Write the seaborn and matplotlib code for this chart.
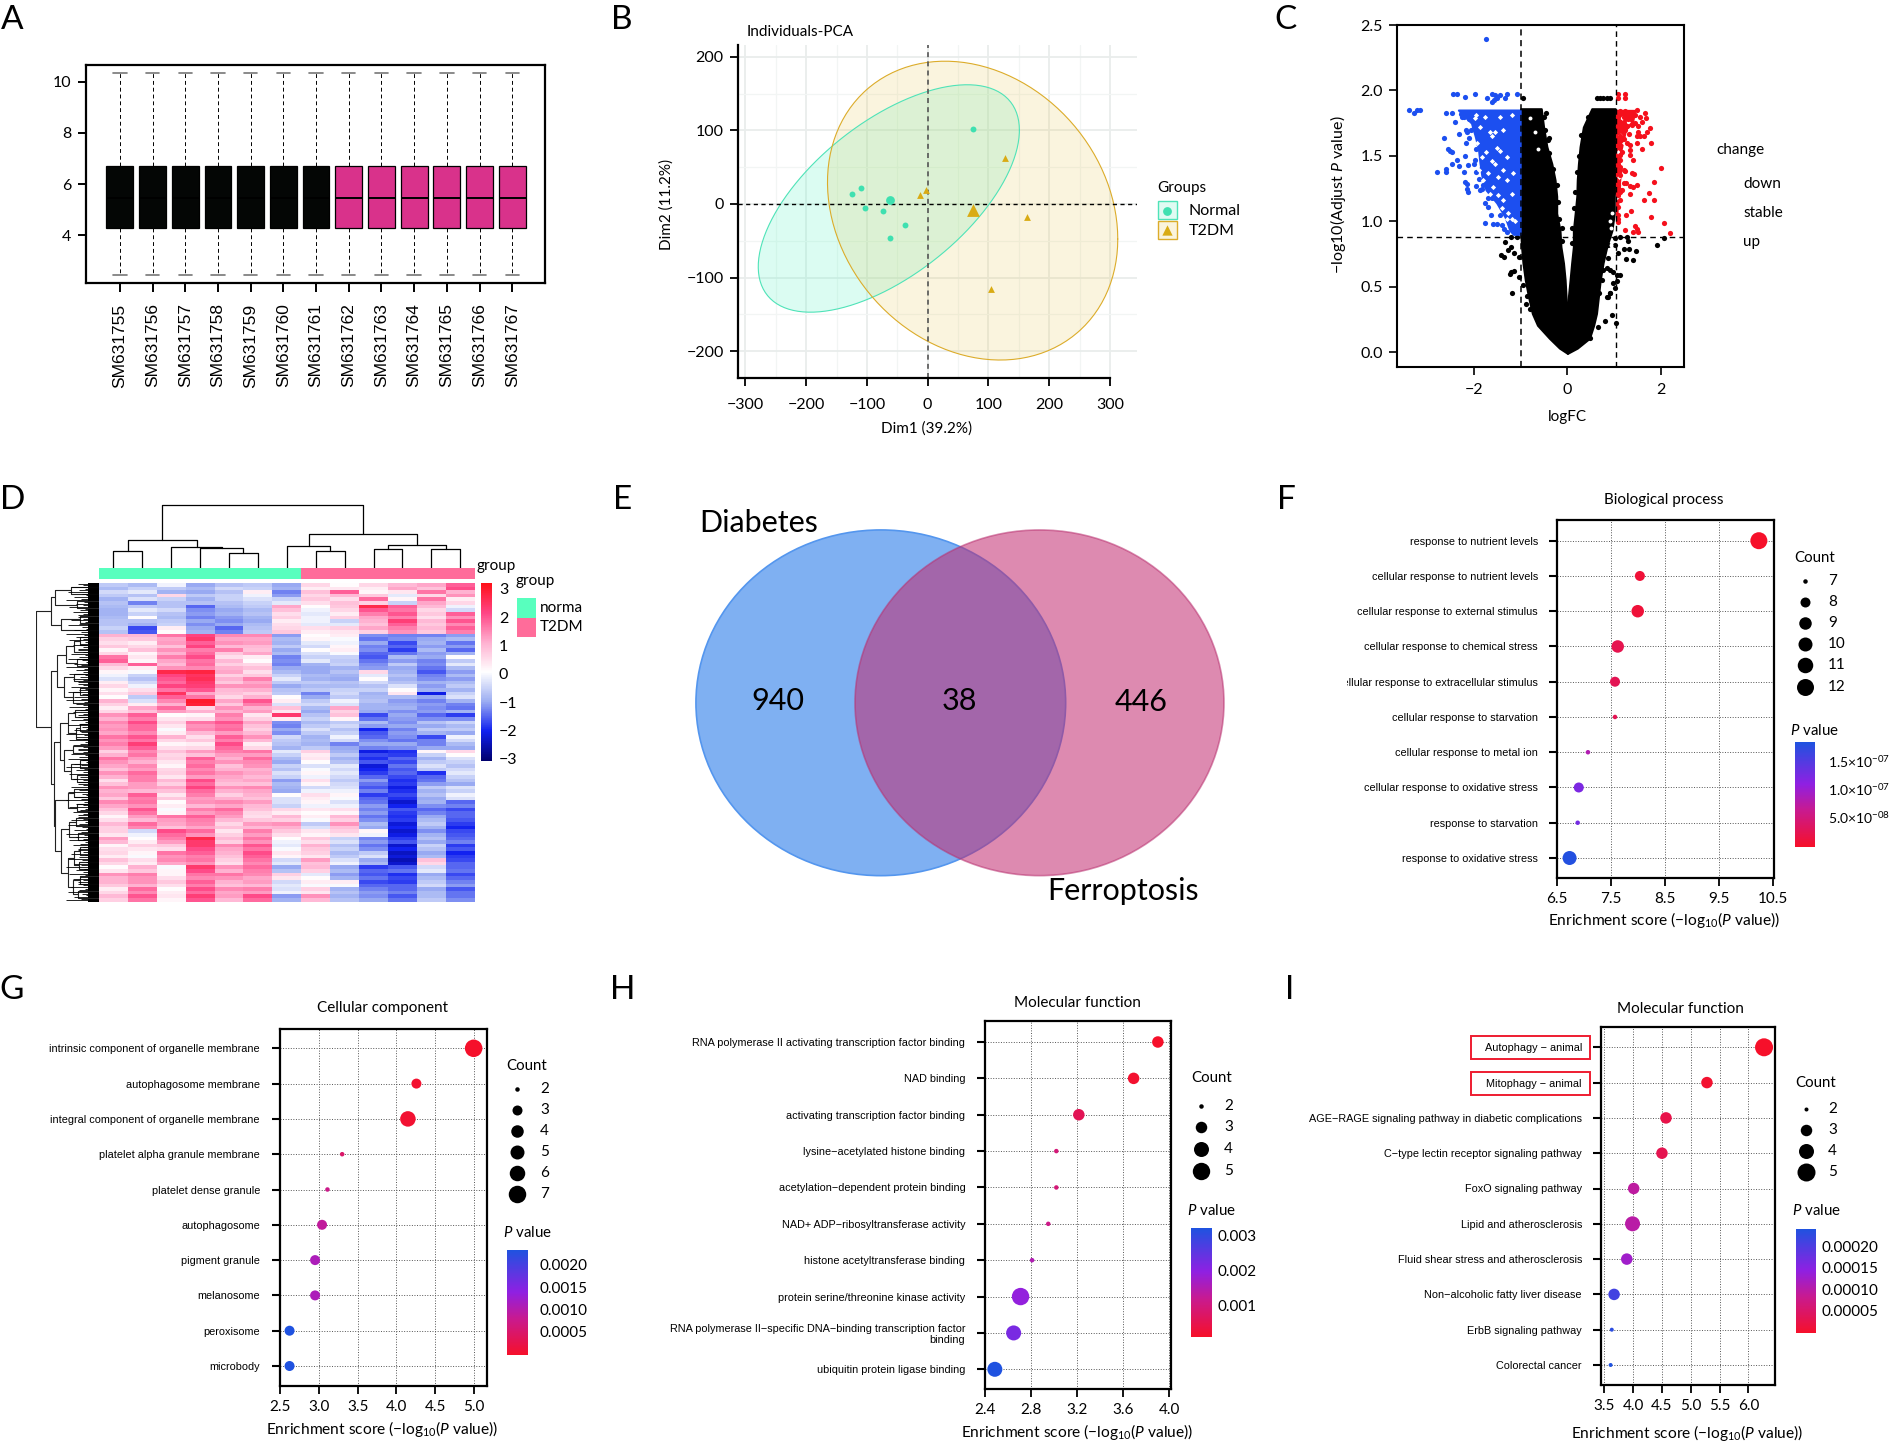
#!/usr/bin/env python3
# Nine-panel figure: boxplot, PCA, volcano, heatmap, venn and four enrichment dot plots
import numpy as np
import pandas as pd
import matplotlib
matplotlib.use("Agg")
import matplotlib.pyplot as plt
import seaborn as sns
from matplotlib.colors import LinearSegmentedColormap, ListedColormap, Normalize
from matplotlib.cm import ScalarMappable
from matplotlib.patches import Rectangle, Ellipse
from matplotlib.transforms import Bbox

W, H = 1890, 1444

# ---- A: boxes
samples = ["SM6317%d" % i for i in range(55, 68)]
sample_group = ["normal"] * 7 + ["t2dm"] * 6
box_stats = [2.45, 4.3, 5.45, 6.7, 10.33]

# ---- B: PCA
normal_x = [74, -110, -125, -103, -74, -38, -62]
normal_y = [102, 22, 14, -5, -10, -29, -46]
t2dm_x = [127, -3, -12, 164, 105]
t2dm_y = [62, 19, 12, -18, -115]
centroid_x = [-62, 74]
centroid_y = [6, -8]

# ---- C: volcano
blue_x = [-3.38, -3.27, -3.22, -3.16, -2.60, -2.46, -2.395, -2.63, -2.31, -2.17, -2.15, -2.095, -2.17, -2.545, -2.51,
          -2.47, -2.19, -2.35, -2.46, -2.31, -2.22, -2.13, -1.995, -2.60, -2.60, -2.78, -2.19, -2.14, -2.15, -2.12,
          -1.95, -1.87, -2.44, -2.365, -2.19, -1.975, -1.71, -1.62, -1.55, -1.51, -1.44, -1.62, -1.30, -1.33, -1.08,
          -1.56, -1.73, -1.755, -1.60, -1.51, -1.64, -1.755, -1.69, -2.25, -2.05, -1.92, -1.85, -1.80, -1.62,
          -2.0, -2.1, -1.95, -1.98, -1.95, -1.9, -1.82, -1.7, -1.45, -1.4, -1.35, -1.3, -2.28, -2.2]
blue_y = [1.85, 1.83, 1.85, 1.85, 1.83, 1.83, 1.755, 1.64, 1.665, 1.70, 1.685, 1.64, 1.595, 1.55, 1.535,
          1.53, 1.495, 1.47, 1.44, 1.42, 1.38, 1.43, 1.44, 1.40, 1.38, 1.38, 1.30, 1.285, 1.25, 1.22,
          1.27, 1.235, 1.97, 1.97, 1.95, 1.97, 1.94, 1.97, 1.965, 1.94, 1.965, 1.915, 1.97, 1.94, 1.97,
          1.925, 2.39, 0.99, 0.98, 0.98, 1.05, 1.14, 1.11, 1.80, 1.70, 1.60, 1.40, 1.28, 1.18,
          1.72, 1.78, 1.55, 1.47, 1.38, 1.32, 1.25, 1.18, 1.05, 0.97, 0.94, 0.92, 1.82, 1.80]
blue_body_y = [0.90, 0.93, 1.03, 1.14, 1.24, 1.35, 1.45, 1.55, 1.65, 1.75, 1.85]
blue_body_left = [-1.155, -1.23, -1.33, -1.51, -1.74, -1.83, -1.87, -1.90, -1.97, -2.05, -2.33]
blue_gap_x = [-1.95, -1.97, -1.65, -1.55, -1.76, -1.44, -1.19, -1.87, -1.62, -1.37, -1.94, -1.73, -1.44, -1.51, -1.83,
              -1.62, -1.55, -1.30, -1.90, -1.69, -1.48, -1.37, -1.80, -1.58, -1.30, -1.155, -1.65, -1.48, -1.37, -1.19,
              -1.62, -1.51, -1.40, -1.26, -1.30, -1.19, -1.12, -1.44]
blue_gap_y = [1.81, 1.79, 1.68, 1.68, 1.80, 1.80, 1.81, 1.72, 1.65, 1.70, 1.60, 1.53, 1.54, 1.56, 1.49,
              1.46, 1.44, 1.49, 1.39, 1.37, 1.34, 1.39, 1.315, 1.265, 1.315, 1.37, 1.21, 1.20, 1.16, 1.21,
              1.14, 1.07, 1.10, 1.06, 1.02, 1.02, 1.0, 1.01]

black_y = [-0.01, 0.03, 0.105, 0.205, 0.295, 0.42, 0.55, 0.68, 0.805, 0.93, 1.06, 1.19, 1.315, 1.44, 1.57, 1.72, 1.86]
black_left_out = [0, -0.17, -0.385, -0.64, -0.75, -0.83, -0.90, -0.95, -0.98, -1.0, -1.0, -1.0, -1.0, -1.0, -1.0, -1.0, -1.0]
black_left_in = [0, 0, 0, 0, 0, -0.03, -0.05, -0.085, -0.14, -0.16, -0.23, -0.23, -0.265, -0.335, -0.44, -0.51, -0.56]
black_right_in = [0, 0, 0, 0, 0, 0.02, 0.056, 0.09, 0.127, 0.127, 0.165, 0.20, 0.21, 0.235, 0.27, 0.34, 0.52]
black_right_out = [0, 0.21, 0.47, 0.56, 0.62, 0.66, 0.70, 0.76, 0.84, 0.95, 1.0, 1.0, 1.02, 1.02, 1.02, 1.02, 1.02]
black_pts_x = [0.625, 0.70, 0.77, 0.84, 0.91, -0.457, 1.91, 2.07, 1.28, 1.30, 1.12, 1.02, 0.875, 1.02, 1.20, 1.32, 1.47,
               1.09, 1.25, 1.39, 0.875, 0.77, 0.84, 0.91, 0.98, 1.05, 0.73, 1.05, 0.98, 1.02, 0.91, 0.68, 0.84,
               -0.94, -1.42, -1.36, -1.26, -1.20, -1.14, -1.33, -1.2, -1.07, -1.03, -1.2, -1.14, -1.23, -1.03, -1.18,
               -0.94, -0.86, -0.885, -0.80, -0.64, -0.575, 0.66, 0.80, 0.96, 1.03, 0.49, 0.86, 0.90, 1.12, -0.47, -0.40,
               -0.50, -0.42, -0.40, -0.30, -0.22, -0.20, -0.19, -0.12, -0.12, 0.44, 0.30, 0.24, 0.20, 0.17, 0.15, 0.10, 0.10]
black_pts_y = [1.94, 1.94, 1.94, 1.94, 1.94, 1.83, 0.82, 0.87, 0.88, 0.85, 0.88, 0.87, 0.82, 0.82, 0.79, 0.79, 0.77,
               0.755, 0.71, 0.70, 0.72, 0.63, 0.64, 0.63, 0.61, 0.59, 0.55, 0.54, 0.525, 0.49, 0.45, 0.45, 0.42,
               1.94, 0.74, 0.73, 0.78, 0.80, 0.76, 0.84, 0.88, 0.88, 0.73, 0.61, 0.62, 0.60, 0.575, 0.45,
               0.51, 0.43, 0.37, 0.33, 0.28, 0.24, 0.19, 0.24, 0.28, 0.22, 0.105, 0.42, 0.45, 0.59, 1.70, 1.64,
               1.80, 1.62, 1.52, 1.40, 1.28, 1.15, 1.02, 0.95, 0.85, 1.80, 1.66, 1.50, 1.38, 1.22, 1.10, 0.95, 0.83]
black_gap_x = [-0.80, -0.70, 0.90, 0.95, 0.92, 0.88, -0.62, 0.93]
black_gap_y = [1.79, 1.68, 1.00, 1.06, 0.82, 0.76, 1.55, 0.95]

red_body_y = [1.0, 1.1, 1.22, 1.3, 1.40, 1.5, 1.62, 1.70, 1.76, 1.85]
red_body_right = [1.06, 1.07, 1.12, 1.12, 1.15, 1.12, 1.20, 1.25, 1.40, 1.445]
red_gap_x = [1.16, 1.30, 1.12, 1.20, 1.09, 1.14, 1.10, 1.08]
red_gap_y = [1.79, 1.76, 1.66, 1.60, 1.53, 1.44, 1.34, 1.18]
red_x = [1.07, 1.07, 1.22, 1.22, 1.12, 1.23, 1.34, 1.495, 1.665, 1.445, 1.55, 1.68, 1.09, 1.20, 1.30, 1.59, 1.445,
         1.765, 1.71, 1.12, 1.20, 1.28, 1.37, 1.515, 1.07, 1.16, 1.23, 1.09, 1.32, 1.515, 1.55, 1.12, 1.20, 1.09,
         1.48, 1.645, 1.48, 1.34, 1.28, 1.79, 1.59, 1.12, 1.16, 1.34, 1.34, 1.12, 1.41, 1.12, 1.09, 1.12, 1.20,
         1.07, 1.99, 1.22, 1.37, 1.43, 1.12, 1.07, 1.09, 1.12, 1.20, 1.25, 1.34, 1.41, 1.48, 1.85, 1.12, 1.34, 1.16,
         1.75, 1.07, 1.12, 1.645, 1.85, 1.07, 1.35, 1.25, 1.09, 1.09, 1.07, 1.79, 2.07, 2.19, 1.23, 1.445, 1.40, 1.48, 1.515]
red_y = [1.97, 1.94, 1.97, 1.94, 1.84, 1.84, 1.825, 1.85, 1.83, 1.81, 1.80, 1.79, 1.80, 1.795, 1.78, 1.76, 1.75,
         1.71, 1.685, 1.76, 1.75, 1.725, 1.735, 1.725, 1.725, 1.71, 1.70, 1.685, 1.67, 1.68, 1.65, 1.65, 1.625, 1.62,
         1.65, 1.65, 1.595, 1.58, 1.595, 1.595, 1.55, 1.57, 1.53, 1.545, 1.505, 1.505, 1.47, 1.47, 1.44, 1.415, 1.39,
         1.405, 1.41, 1.385, 1.37, 1.36, 1.355, 1.275, 1.25, 1.24, 1.29, 1.29, 1.27, 1.265, 1.28, 1.30, 1.225, 1.21, 1.235,
         1.215, 1.2, 1.16, 1.16, 1.16, 1.11, 1.08, 1.05, 1.05, 1.02, 0.995, 1.03, 0.99, 0.91, 0.93, 0.96, 0.92, 0.94, 0.92]

# ---- D: heatmap rows (bands read top to bottom)
heat_top = [
    [-.6, -.8, -.1, -1, -.7, -.6, -1, .6, .1, .6, 1, 1.2, 1.9],
    [-.8, -.5, -.6, -.8, -.4, -.5, -.9, .3, .4, .3, 1.2, .9, 2.1],
    [-.4, -.2, -.9, -1.0, -.7, .3, -1.3, .9, 1.9, .2, .4, 1.7, 1.1],
    [-.6, -.7, .6, -.6, -.5, -.1, -1.1, .6, 1.0, .8, -.2, .6, 1.4],
    [-.9, -.3, -.5, -.9, -.5, -.3, -.5, .8, .5, 1.8, .2, 1.7, .3],
    [-.7, -1.3, -.7, -.7, -.7, -.5, -.2, .5, .9, .7, -.5, 1.2, .6],
    [-.8, -.6, -.7, -1.5, -.8, -.6, 1.2, .1, .8, 2.7, 1.9, 1.0, -.1],
    [-.9, -.2, -.4, -1.2, -1.0, -.8, .9, -.1, .6, 2.0, 1.7, .6, -.4],
    [-.9, -.5, -.7, -1.1, -.9, -.7, .5, -.2, .3, 1.6, 2.0, .8, 1.9],
    [-.8, .1, -.8, -1.3, -1.1, -.9, .7, -.1, .7, 1.2, 1.6, .5, 1.4],
    [-.7, -.7, -.6, -1.0, -1.2, -1.0, .3, -.1, -.5, 1.1, 2.3, 1.0, 2.0],
    [-.7, -.9, -.5, -1.2, -1.0, -.8, .5, -.2, -.2, .9, 1.9, .8, 1.5],
    [-.5, -1.7, .3, -1.0, -1.5, -.7, .6, .5, .7, 1.2, 1.6, 1.0, 1.9],
    [-.7, -1.6, .1, -.9, -1.3, -.6, .8, .3, .4, .7, 1.4, .8, 1.6],
]
heat_upper = [
    [1.1, 1.0, 1.7, 2.2, 1.5, 1.5, -1.1, .1, .3, -1.2, -1.3, -1.3, -1.1],
    [.7, .8, 1.2, 2.4, 1.2, 1.2, -.8, .2, .0, -1.4, -1.2, -1.0, -.8],
    [.5, .3, 1.3, 1.9, 1.4, 1.3, -.9, -.2, -.1, -1.0, -1.7, -.9, -1.4],
    [.8, .6, .9, 2.2, 1.0, 1.0, -.6, -.4, .2, -1.3, -1.5, -1.1, -1.1],
    [.2, .9, 1.4, 1.6, 1.6, .9, -1.0, .1, .3, -1.2, -1.8, -.8, -1.5],
    [.6, .2, 1.1, 1.8, .8, 1.2, -.8, -.3, .0, -1.5, -1.4, -1.1, -.9],
    [1.7, .4, 1.6, 2.1, .5, .3, -1.3, -.5, -.5, -1.6, -.8, -1.0, .1],
    [1.9, .2, 1.2, 1.7, 1.0, .1, -1.2, -.2, -.6, -1.4, -1.1, -1.3, -.6],
    [1.0, 1.9, 1.0, 1.8, .7, .6, -1.3, -.9, -.5, -1.2, -.6, -1.2, -.2],
    [.6, .3, 1.4, 1.5, 1.1, .9, -1.0, -1.0, -.9, -1.1, -1.0, -1.4, -.8],
    [.2, .0, 2.7, 2.8, 1.2, .5, -.8, -1.0, -.7, .6, -.9, -1.6, -1.1],
    [-.1, -.5, 2.2, 2.5, .7, .8, -.5, -.8, -.9, -.2, -.7, -1.3, -.8],
    [-.3, -.7, 2.0, 2.6, 1.1, 1.6, -.2, -.9, -1.0, .1, -.9, -1.2, -1.1],
    [.3, -.4, 1.8, 2.4, .8, 1.2, -.6, -.6, -.7, -.4, -.7, -.9, -.8],
    [.6, -.1, 2.2, 2.3, 1.4, 1.4, -1.0, -.8, -.8, -.7, -.3, -1.1, -.6],
    [.2, .5, 1.7, 2.0, 1.0, 1.1, -.7, -.6, -.5, -.5, .1, -.9, -.9],
    [.5, .8, 2.5, 1.2, .9, .7, -.6, -1.3, -.4, -.9, .4, -2.1, -.5],
    [.1, -.6, 1.9, 1.7, .6, 1.1, .1, -1.0, -.6, -.8, -.8, -1.0, -.3],
    [1.1, -.3, 1.5, 3.0, 1.2, 2.0, .3, -.6, -.1, -.7, -1.1, -1.3, -.9],
    [.7, .3, 1.1, 2.9, .8, 1.6, -.3, -.4, -.3, -.9, -1.0, -1.1, -1.3],
]
heat_middle = [
    [.3, 1.2, 1.8, .6, 1.4, 1.1, .9, -.8, 1.2, -.9, -.9, -1.2, -1.4],
    [.6, .9, 1.3, 1.1, 1.1, 1.3, .4, -1.0, .7, -1.0, -1.2, -1.1, -.9],
    [1.4, 1.9, .1, .2, 1.6, .4, 2.4, -.7, .9, -1.7, -1.0, -1.5, -1.8],
    [1.1, 1.6, .4, .5, 1.4, .7, .3, -.5, .2, -1.4, -1.1, -1.2, -1.2],
    [1.5, 2.1, .7, 1.7, 2.0, 1.2, -1.2, -.8, -.6, -.8, -1.2, -.7, -.5],
    [1.3, 1.8, .4, 1.4, 1.7, .9, -1.3, -.6, -.4, -1.1, -1.0, -1.0, -.8],
    [1.4, 1.8, .0, 1.5, 1.8, .7, -1.0, -.3, -.7, -2.0, -1.3, -.6, -.6],
    [1.2, 1.5, .3, 1.0, 1.3, 1.0, -1.2, -.6, -.5, -1.6, -1.1, -.9, -1.0],
    [1.7, 2.0, 1.1, .5, 1.9, 1.4, -.4, -.9, -.1, -1.5, -1.2, -1.7, -.1],
    [1.4, 1.7, .6, .8, 1.6, 1.0, -.6, -.8, -.4, -1.2, -1.4, -1.3, -.4],
    [1.6, 2.3, .2, .3, 2.1, .3, -.7, -.9, -1.3, -1.0, -1.0, -1.3, -.8],
    [1.3, 1.9, .5, .6, 1.8, .6, -.9, -.6, -1.0, -1.3, -1.2, -1.0, -1.0],
    [.7, 1.5, .9, 1.3, 1.6, 1.7, -.2, .7, -.9, -2.1, -1.9, .2, .6],
    [1.1, 1.7, .6, .9, 1.3, 1.3, -.5, .3, -.6, -1.7, -1.8, -.5, .1],
    [1.7, 1.3, .7, 1.9, 1.1, 1.8, -.8, .4, -.9, -1.9, -1.5, -.9, -.3],
    [1.4, 1.1, .4, 1.6, 1.4, 1.5, -1.0, .1, -.7, -1.6, -1.7, -.6, -.5],
    [1.2, 1.5, .2, 1.8, .9, 1.4, -.5, -.3, -.2, -2.2, -1.4, -.3, -.7],
    [.9, 1.3, .6, 1.5, 1.1, 1.1, -.7, .0, -.4, -2.0, -1.6, -.6, -.4],
    [1.4, 1.8, .7, 1.7, 1.4, 1.2, -.3, .2, -.2, -1.8, -1.5, -1.9, -.2],
    [1.1, 1.6, .4, 1.3, 1.2, 1.0, -.5, -.1, -.4, -1.5, -1.7, -1.5, -.5],
    [.5, 1.6, 1.0, 2.1, 1.1, 1.2, -1.1, .5, -.6, -1.1, -1.9, -1.4, -.7],
    [.9, 1.3, .7, 1.8, .9, .9, -.8, .2, -.4, -1.4, -1.8, -1.1, -1.0],
    [1.4, 1.3, 1.2, 2.2, 1.4, 1.5, -.9, -.4, -.3, -1.6, -2.1, -.6, -.3],
    [1.1, 1.0, .9, 1.8, 1.1, 1.2, -1.0, -.1, -.1, -1.3, -1.9, -.9, -.5],
    [1.2, 1.9, .4, 1.6, .7, 1.1, .1, .5, .2, -1.8, -1.7, -.7, -.1],
    [.8, 1.6, .8, 1.3, 1.1, .9, -.3, .3, .0, -1.5, -1.9, -1.0, -.3],
    [1.5, 1.7, .1, 1.4, 1.5, 1.3, -.3, .2, -.3, -1.4, -2.3, -.9, -1.5],
    [1.2, 1.4, .3, 1.0, 1.2, 1.0, -.5, -.1, -.1, -1.1, -2.0, -1.2, -1.3],
    [.9, 2.0, .0, 1.6, 1.8, .9, .6, .4, .5, -1.3, -1.6, -1.5, -1.7],
    [.6, 1.7, .2, 1.3, 1.5, .6, .3, .1, .2, -1.1, -1.8, -1.3, -1.5],
]
heat_lower = [
    [.2, 1.3, 1.7, 1.9, 1.3, .5, 1.0, .3, 1.0, -1.4, -1.9, -1.0, -1.5],
    [.5, 1.0, 1.3, 1.6, 1.0, .8, .7, .0, .7, -1.2, -1.8, -.8, -1.6],
    [1.0, 1.8, 1.2, 1.5, .6, 1.3, 1.4, -.6, 1.4, -.8, -2.2, -.6, -1.8],
    [.7, 1.5, .9, 1.2, .9, 1.0, 1.1, -.3, .9, -1.0, -2.0, -.9, -2.0],
    [.7, -.4, 2.1, 1.8, .4, 1.6, .8, .4, .7, .2, -2.3, -1.2, -1.7],
    [.4, -.1, 1.8, 1.4, .7, 1.3, .5, .2, .4, -.1, -2.1, -.9, -1.6],
    [1.3, .1, 1.6, 2.7, 1.0, 1.7, .1, .8, -.5, -1.3, -1.8, -.7, -1.5],
    [1.0, .3, 1.3, 2.4, .7, 1.4, -.1, .5, -.3, -1.1, -1.6, -1.0, -1.3],
    [.2, .7, .8, 2.4, 1.5, 2.0, -.2, 1.1, -.7, -1.4, -2.3, -.5, -1.8],
    [.5, .4, .5, 2.1, 1.2, 1.7, .0, .8, -.5, -1.2, -2.0, -.7, -1.6],
    [.6, .2, 1.7, 1.9, 1.1, 2.1, .4, .7, -.8, -.6, -2.4, -1.0, -2.0],
    [.3, .0, 1.4, 1.6, .9, 1.9, .2, .4, -.6, -.3, -2.2, -.8, -1.8],
    [.9, .5, 1.5, 1.7, .7, 1.7, -.4, 1.3, -.3, -1.0, -2.5, .9, -1.7],
    [.6, .3, 1.2, 1.4, .5, 1.5, -.2, .9, -.1, -.8, -2.3, .6, -1.5],
    [.1, 1.1, .0, 2.4, 1.4, 1.8, -1.0, 1.0, -1.0, -1.8, -1.6, -.4, -1.5],
    [.4, .8, .2, 2.1, 1.1, 1.6, -.7, .7, -.8, -1.5, -1.4, -.2, -1.4],
    [1.4, 1.6, .2, 1.7, 1.7, 1.5, .7, -.2, -1.1, -1.6, -1.9, -1.0, -1.7],
    [1.1, 1.4, .5, 1.5, 1.4, 1.2, .4, .1, -.9, -1.4, -1.7, -.8, -1.5],
    [1.1, 1.4, .8, 1.9, 1.1, 1.3, -.4, .3, .3, -1.7, -1.8, -.6, -1.3],
    [.8, 1.1, .5, 1.6, .9, 1.0, -.2, .0, .0, -1.5, -1.5, -.4, -1.1],
    [.3, 1.8, .1, 2.1, 1.5, 1.6, -.3, .7, -.9, -1.3, -1.5, -1.0, -1.6],
    [.6, 1.5, .3, 1.8, 1.2, 1.3, -.1, .4, -.7, -1.1, -1.3, -.8, -1.4],
    [1.0, 2.0, .4, 2.3, 1.3, 2.1, -1.1, 1.4, -.9, -1.2, -1.6, -.8, -1.4],
    [.7, 1.7, .2, 2.0, 1.0, 1.8, -.9, 1.0, -.7, -1.0, -1.4, -.6, -1.2],
]
heat_group = [0] * 7 + [1] * 6
# column tree: (child, child, height); ids above 12 are earlier merges
col_merges = [(0, 1, .27), (4, 5, .24), (3, 14, .316), (2, 15, .33), (13, 16, .44), (7, 8, .27), (6, 18, .347),
              (9, 10, .29), (11, 12, .305), (20, 21, .363), (19, 22, .54), (17, 23, 1.0)]
# row tree, nested (depth, upper, lower); leaves are slots 0-43 along the heatmap height
row_tree = (1.0,
            (.76, (.70, (.45, 0, 1), (.35, 2, 3)), (.6, (.3, 4, 5), 6)),
            (.76,
             (.66, (.52, (.4, (.3, 7, 8), 9), (.35, 10, 11)), (.55, (.4, 12, 13), (.42, (.3, 14, 15), 16))),
             (.72,
              (.62, (.5, (.38, 17, 18), (.36, (.3, 19, 20), 21)), (.55, (.42, 22, 23), (.45, (.3, 24, 25), (.35, 26, 27)))),
              (.70, (.5, (.4, 28, 29), (.35, 30, 31)),
               (.6, (.48, (.36, 32, 33), (.34, 34, 35)), (.5, (.4, (.3, 36, 37), (.32, 38, 39)), (.42, (.3, 40, 41), (.33, 42, 43))))))))
leaf_jag = [.34, .25, .44, .22, .31, .50, .27, .20, .39, .29, .52, .24, .36, .26, .47, .22, .30, .42, .25, .33]

# ---- F-I: enrichment tables
bp_terms = ["response to nutrient levels", "cellular response to nutrient levels", "cellular response to external stimulus",
            "cellular response to chemical stress", "cellular response to extracellular stimulus",
            "cellular response to starvation", "cellular response to metal ion", "cellular response to oxidative stress",
            "response to starvation", "response to oxidative stress"]
bp_score = [10.24, 8.04, 8.0, 7.63, 7.58, 7.58, 7.08, 6.91, 6.89, 6.74]
bp_count = [12, 8, 9, 9, 8, 7, 7, 8, 7, 10]

cc_terms = ["intrinsic component of organelle membrane", "autophagosome membrane", "integral component of organelle membrane",
            "platelet alpha granule membrane", "platelet dense granule", "autophagosome", "pigment granule", "melanosome",
            "peroxisome", "microbody"]
cc_score = [5.0, 4.26, 4.15, 3.3, 3.11, 3.04, 2.95, 2.95, 2.62, 2.62]
cc_count = [7, 3, 6, 2, 2, 3, 3, 3, 3, 3]

mf_terms = ["RNA polymerase II activating transcription factor binding", "NAD binding", "activating transcription factor binding",
            "lysine\u2212acetylated histone binding", "acetylation\u2212dependent protein binding",
            "NAD+ ADP\u2212ribosyltransferase activity", "histone acetyltransferase binding",
            "protein serine/threonine kinase activity",
            "RNA polymerase II\u2212specific DNA\u2212binding transcription factor\nbinding", "ubiquitin protein ligase binding"]
mf_score = [3.90, 3.69, 3.215, 3.02, 3.02, 2.95, 2.81, 2.71, 2.65, 2.487]
mf_count = [3, 3, 3, 2, 2, 2, 2, 5, 4, 4]

kegg_terms = ["Autophagy \u2212 animal", "Mitophagy \u2212 animal", "AGE\u2212RAGE signaling pathway in diabetic complications",
              "C\u2212type lectin receptor signaling pathway", "FoxO signaling pathway", "Lipid and atherosclerosis",
              "Fluid shear stress and atherosclerosis", "Non\u2212alcoholic fatty liver disease", "ErbB signaling pathway",
              "Colorectal cancer"]
kegg_score = [6.27, 5.28, 4.57, 4.50, 4.01, 3.99, 3.89, 3.67, 3.63, 3.61]
kegg_count = [5, 3, 3, 3, 3, 4, 3, 3, 2, 2]

sns.set_theme(style="ticks")
plt.rcParams["font.family"] = ["Lato", "DejaVu Sans"]
plt.rcParams["mathtext.fontset"] = "custom"
plt.rcParams["mathtext.rm"] = "Lato"
plt.rcParams["mathtext.it"] = "Lato:italic"
plt.rcParams["mathtext.bf"] = "Lato:bold"
for key in ["axes.edgecolor", "xtick.color", "ytick.color", "text.color", "axes.labelcolor"]:
    plt.rcParams[key] = "black"

fig = plt.figure(figsize=(W / 100, H / 100), dpi=100)


def px_axes(left, top, right, bottom):
    return fig.add_axes([left / W, 1 - bottom / H, (right - left) / W, (bottom - top) / H])


# transparent top layer in figure pixels for titles, legends and panel letters
over = fig.add_axes([0, 0, 1, 1], zorder=20)
over.set_xlim(0, W)
over.set_ylim(H, 0)
over.axis("off")


def put(x, y, s, size=11, ha="left", **kw):
    over.text(x, y, s, fontsize=size, ha=ha, va="center", **kw)


for letter, lx, ly in [("A", 12, 20), ("B", 622, 20), ("C", 1285, 20), ("D", 13, 500), ("E", 623, 500),
                       ("F", 1286, 500), ("G", 12, 990), ("H", 623, 990), ("I", 1290, 990)]:
    put(lx, ly, letter, size=24, ha="center")

# ---------- A
ax = px_axes(86.5, 65, 545, 283.3)
box_df = pd.DataFrame({
    "sample": np.repeat(samples, len(box_stats)),
    "group": np.repeat(sample_group, len(box_stats)),
    "expr": box_stats * len(samples),
})
sns.boxplot(data=box_df, x="sample", y="expr", hue="group", dodge=False, width=0.82, whis=(0, 100), legend=False,
            palette={"normal": "#040605", "t2dm": "#d9328b"}, saturation=1, linecolor="black", linewidth=0.9,
            whiskerprops={"linestyle": (0, (4, 3)), "linewidth": 0.7}, capprops={"color": "#777777", "linewidth": 1.2},
            medianprops={"color": "black", "linewidth": 1.4}, ax=ax)
ax.set_xlim(-1.02, 13.0)
ax.set_ylim(2.125, 10.65)
ax.set_yticks([4, 6, 8, 10])
ax.set_xlabel("")
ax.set_ylabel("")
ax.tick_params(axis="y", labelsize=11.5, length=6, width=1.4, pad=5)
ax.tick_params(axis="x", labelsize=12.5, length=6.5, width=1.4, pad=8, rotation=90)
for lab in ax.get_xticklabels():
    lab.set_fontfamily("Liberation Sans")
for sp in ax.spines.values():
    sp.set_linewidth(1.6)
    sp.set_visible(True)

# ---------- B
ax = px_axes(737.6, 45, 1136.6, 377.7)
ax.set_xlim(-313, 344)
ax.set_ylim(-236, 216)
ax.set_xticks(np.arange(-300, 301, 100))
ax.set_yticks(np.arange(-200, 201, 100))
ax.set_xticks(np.arange(-250, 300, 100), minor=True)
ax.set_yticks(np.arange(-150, 200, 100), minor=True)
ax.grid(True, which="major", color="#e9edec", lw=1.3)
ax.grid(True, which="minor", color="#f2f5f4", lw=0.9)
ax.set_axisbelow(True)
theta = np.linspace(0, 2 * np.pi, 240)
for cx, cy, rx, ry, shift, face, edge, a in [(-64, 7.5, 215, 154.5, 0.927, "#5ff5c4", "#4fe3b8", 0.22),
                                             (74, -9, 239, 203, 1.762, "#e6c040", "#dcac2a", 0.17)]:
    ex = cx + rx * np.cos(theta)
    ey = cy + ry * np.cos(theta - shift)
    ax.fill(ex, ey, facecolor=face, alpha=a, edgecolor="none", zorder=1.5)
    ax.plot(ex, ey, color=edge, lw=0.8, zorder=1.6)
sns.scatterplot(x=normal_x, y=normal_y, color="#3fe0b0", s=18, marker="o", linewidth=0, ax=ax, zorder=3)
sns.scatterplot(x=t2dm_x, y=t2dm_y, color="#d9ab14", s=24, marker="^", linewidth=0, ax=ax, zorder=3)
sns.scatterplot(x=centroid_x[:1], y=centroid_y[:1], color="#3fe0b0", s=40, marker="o", linewidth=0, ax=ax, zorder=3)
sns.scatterplot(x=centroid_x[1:], y=centroid_y[1:], color="#d9ab14", s=85, marker="^", linewidth=0, ax=ax, zorder=3)
ax.axhline(0, color="black", lw=1.0, ls=(0, (3, 2.5)), zorder=2)
ax.axvline(0, color="#555555", lw=1.2, ls=(0, (3, 2.5)), zorder=2)
ax.spines["top"].set_visible(False)
ax.spines["right"].set_visible(False)
ax.spines["left"].set_linewidth(1.6)
ax.spines["bottom"].set_linewidth(1.6)
ax.spines["bottom"].set_bounds(-313, 300)
ax.tick_params(which="minor", length=0)
ax.tick_params(which="major", labelsize=11.5, length=6, width=1.3, pad=4)
ax.tick_params(axis="x", which="major", pad=8.5)
put(747, 32, "Individuals-PCA", size=11)
put(927, 429, "Dim1 (39.2%)", size=11, ha="center")
put(666.5, 204, "Dim2 (11.2%)", size=11, ha="center", rotation=90)
put(1157.6, 188, "Groups", size=11)
over.add_patch(Rectangle((1157.6, 201), 19, 18, facecolor="#dffbf2", edgecolor="#4fe3b8", lw=1.0))
over.add_patch(Rectangle((1157.6, 221), 19, 18, facecolor="#faf3dc", edgecolor="#dcac2a", lw=1.0))
over.scatter([1167], [210.5], s=40, marker="o", color="#3fe0b0", linewidth=0)
over.scatter([1167], [229.5], s=55, marker="^", color="#d9ab14", linewidth=0)
put(1189, 211, "Normal", size=11.5)
put(1189, 231, "T2DM", size=11.5)

# ---------- C
ax = px_axes(1396.6, 25, 1684, 366.7)
ax.fill_betweenx(black_y, black_left_out, black_left_in, color="black", lw=1.5, zorder=2)
ax.fill_betweenx(black_y, black_right_in, black_right_out, color="black", lw=1.5, zorder=2)
sns.scatterplot(x=black_pts_x, y=black_pts_y, color="black", s=14, linewidth=0, ax=ax, zorder=2.1)
sns.scatterplot(x=black_gap_x, y=black_gap_y, color="white", s=8, linewidth=0, ax=ax, zorder=2.2)
blue_right = [-1.01] * len(blue_body_y)
ax.fill_betweenx(blue_body_y, blue_body_left, blue_right, color="#1c4ff0", lw=1.5, zorder=3)
sns.scatterplot(x=blue_x, y=blue_y, color="#1c4ff0", s=14, linewidth=0, ax=ax, zorder=3.1)
sns.scatterplot(x=blue_gap_x, y=blue_gap_y, color="white", s=7, marker="D", linewidth=0, ax=ax, zorder=3.2)
red_left = [1.04] * len(red_body_y)
ax.fill_betweenx(red_body_y, red_left, red_body_right, color="#f5101c", lw=1.0, zorder=3.25)
sns.scatterplot(x=red_gap_x, y=red_gap_y, color="white", s=6, marker="D", linewidth=0, ax=ax, zorder=3.28)
sns.scatterplot(x=red_x, y=red_y, color="#f5101c", s=14, linewidth=0, ax=ax, zorder=3.3)
ax.axvline(-1.0, color="black", lw=1.1, ls=(0, (4, 3)), zorder=4)
ax.axvline(1.03, color="black", lw=1.0, ls=(0, (4, 3)), zorder=4)
ax.axhline(0.88, color="black", lw=1.0, ls=(0, (4, 3)), zorder=4)
ax.set_xlim(-3.65, 2.49)
ax.set_ylim(-0.112, 2.5)
ax.set_xticks([-2, 0, 2])
ax.set_yticks([0, 0.5, 1.0, 1.5, 2.0, 2.5])
ax.tick_params(labelsize=11.5, length=6, width=1.2, pad=4)
ax.tick_params(axis="x", pad=6)
for sp in ax.spines.values():
    sp.set_linewidth(1.5)
    sp.set_visible(True)
put(1567, 417, "logFC", size=11, ha="center")
put(1338, 195, r"$-$log10(Adjust $\mathit{P}$ value)", size=11.5, ha="center", rotation=90)
put(1716, 150, "change", size=11)
put(1743, 184, "down", size=11)
put(1743, 213, "stable", size=11)
put(1743, 242, "up", size=11)

# ---------- D
heat_cmap = LinearSegmentedColormap.from_list(
    "heat", [(0, "#00006e"), (1 / 6, "#1020f0"), (2 / 6, "#9cadf2"), (3 / 6, "#ffffff"),
             (4 / 6, "#ffb0d0"), (5 / 6, "#ff4585"), (1, "#ff1018")])
heat = np.array(heat_top + heat_upper + heat_middle + heat_lower)
ax = px_axes(99, 583, 474.7, 901.7)
cax = px_axes(481, 583, 492, 760.7)
sns.heatmap(heat, ax=ax, cbar_ax=cax, cmap=heat_cmap, vmin=-3.07, vmax=3.21, xticklabels=False, yticklabels=False,
            cbar_kws={"ticks": [-3, -2, -1, 0, 1, 2, 3]})
cax.tick_params(length=0, labelsize=11.5, pad=5)
ax = px_axes(99, 567.7, 474.7, 579)
sns.heatmap(np.array([heat_group]), ax=ax, cmap=ListedColormap(["#58ffbe", "#ff6c9a"]), cbar=False,
            xticklabels=False, yticklabels=False)
# column tree
ax = px_axes(99, 504.3, 474.7, 567.7)
nodes = {i: (i + 0.5, 0.0) for i in range(13)}
for k, (a, b, h) in enumerate(col_merges):
    xa, ha_ = nodes[a]
    xb, hb_ = nodes[b]
    ax.plot([xa, xa, xb, xb], [ha_, h, h, hb_], color="black", lw=0.9)
    nodes[13 + k] = ((xa + xb) / 2, h)
ax.set_xlim(0, 13)
ax.set_ylim(0, 1.01)
ax.axis("off")
# row tree
ax = px_axes(36, 583, 99, 901.7)


def draw_row(node):
    if not isinstance(node, tuple):
        return node + 0.5, 0.0
    d, up, low = node
    y1, d1 = draw_row(up)
    y2, d2 = draw_row(low)
    ax.plot([d1, d, d, d2], [y1, y1, y2, y2], color="#222222", lw=0.8)
    return (y1 + y2) / 2, d


draw_row(row_tree)
ax.axvspan(0, 0.17, color="black", lw=0)
jag_y = np.arange(0.1, 44, 0.23)
ax.hlines(jag_y, 0, np.resize(leaf_jag, len(jag_y)), color="black", lw=0.6)
ax.set_xlim(1.0, 0)
ax.set_ylim(44, 0)
ax.axis("off")
put(476.5, 566, "group", size=11)
put(515.4, 581, "group", size=11)
over.add_patch(Rectangle((516.5, 598), 19.5, 19.7, facecolor="#58ffbe", lw=0))
over.add_patch(Rectangle((516.5, 617.7), 19.5, 19, facecolor="#ff6c9a", lw=0))
put(539.4, 608, "norma", size=11)
put(539.4, 627, "T2DM", size=11)

# ---------- E
over.add_patch(Ellipse((880.8, 702.8), 369.7, 345.7, facecolor="#7fb0f2", edgecolor="#5496ee", lw=1.2))
over.add_patch(Ellipse((1039.5, 702.8), 369, 345.7, facecolor="#c12a6f", alpha=0.55, edgecolor="#b8306f", lw=1.2))
put(699, 523, "Diabetes", size=22)
put(777.5, 700.7, "940", size=22, ha="center")
put(959, 700.7, "38", size=22, ha="center")
put(1141.4, 702, "446", size=22, ha="center")
put(1122.9, 891, "Ferroptosis", size=22, ha="center")

# ---------- F-I
p_cmap = LinearSegmentedColormap.from_list("pval", [(0, "#f6102a"), (0.35, "#c81a90"), (0.6, "#8f20e2"), (1, "#1f52e0")])
xlabel_txt = r"Enrichment score ($-$log$_{10}$($\mathit{P}$ value))"


def dot_panel(box, terms, score, count, xlim, xticks, row_edges, label_right, diam, pnorm, title, title_xy, xlabel_xy,
              count_xy, dot_x, dot_ys, dot_label_x, pv_xy, bar_box, bar_ticks, bar_labels, bar_label_x, bar_size=11):
    ax = px_axes(*box)
    ax.set_axisbelow(True)
    df = pd.DataFrame({"term": terms, "score": score, "count": count})
    df["p"] = 10.0 ** (-df["score"])
    sizes = {c: (d * 0.72) ** 2 for c, d in diam.items()}
    sns.scatterplot(data=df, x="score", y="term", hue="p", hue_norm=pnorm, palette=p_cmap, size="count", sizes=sizes,
                    linewidth=0, legend=False, ax=ax, zorder=3, clip_on=False)
    # rows are placed so that first and last land where the picture has them
    step = (row_edges[1] - row_edges[0]) / 9
    ax.set_ylim(9 + (box[3] - row_edges[1]) / step, -(row_edges[0] - box[1]) / step)
    ax.set_xlim(*xlim)
    ax.set_xticks(xticks)
    ax.set_xlabel("")
    ax.set_ylabel("")
    ax.grid(True, color="#555555", lw=0.7, ls=":")
    pad = (box[0] - label_right - 8) * 0.72
    ax.tick_params(axis="y", length=5.8, width=1.5, pad=pad, labelsize=7.8)
    ax.tick_params(axis="x", length=5.8, width=1.3, pad=4, labelsize=11)
    for lab in ax.get_yticklabels():
        lab.set_fontfamily("Liberation Sans")
        lab.set_linespacing(1.1)
    for sp in ax.spines.values():
        sp.set_visible(True)
        sp.set_linewidth(1.6)
    put(title_xy[0], title_xy[1], title, size=11, ha="center")
    put(xlabel_xy[0], xlabel_xy[1], xlabel_txt, size=11.2, ha="center")
    put(count_xy[0], count_xy[1], "Count", size=10.8)
    for (c, d), yy in zip(diam.items(), dot_ys):
        over.scatter([dot_x], [yy], s=(d * 0.72) ** 2, color="black", linewidth=0)
        put(dot_label_x, yy, str(c), size=11)
    put(pv_xy[0], pv_xy[1], r"$\mathit{P}$ value", size=10.8)
    cax = px_axes(*bar_box)
    sm = ScalarMappable(norm=Normalize(*pnorm), cmap=p_cmap)
    cb = fig.colorbar(sm, cax=cax)
    cb.outline.set_visible(False)
    cb.set_ticks(bar_ticks)
    cb.set_ticklabels([])
    cax.tick_params(left=True, right=True, direction="in", color="white", length=3, width=1)
    for t, s in zip(bar_ticks, bar_labels):
        yy = bar_box[3] - (t - pnorm[0]) / (pnorm[1] - pnorm[0]) * (bar_box[3] - bar_box[1])
        put(bar_label_x, yy, s, size=bar_size)
    return ax


ax_bp = dot_panel((1556.6, 520, 1774, 878.3), bp_terms, bp_score, bp_count, (6.5, 10.52), [6.5, 7.5, 8.5, 9.5, 10.5],
                  (540.7, 858), 1538, {7: 4.5, 8: 10, 9: 12.5, 10: 14, 11: 15.5, 12: 17}, (0, 1.85e-7),
                  "Biological process", (1664, 500), (1664, 920), (1794.4, 558), 1805,
                  [580.7, 602.3, 623.3, 644.3, 665.3, 686.7], 1828, (1790.5, 730.7), (1795, 742.3, 1815.4, 846.7),
                  [5e-8, 1e-7, 1.5e-7],
                  ["5.0\u00d710$^{-08}$", "1.0\u00d710$^{-07}$", "1.5\u00d710$^{-07}$"], 1827.5, bar_size=10)
# the long term is cut off at its left end in the picture
lab = ax_bp.get_yticklabels()[4]
lab.set_clip_on(True)
lab.set_clip_box(Bbox([[1347, 0], [1600, H]]))

dot_panel((279.5, 1028.7, 486.8, 1386.3), cc_terms, cc_score, cc_count, (2.49, 5.17), [2.5, 3.0, 3.5, 4.0, 4.5, 5.0],
          (1048.3, 1366), 260, {2: 4.5, 3: 10, 4: 12.5, 5: 14, 6: 15.5, 7: 17.5}, (0, 0.00237),
          "Cellular component", (382.5, 1008), (382.5, 1429), (506.6, 1066), 516.7,
          [1089.3, 1110, 1131, 1152, 1173.3, 1194.3], 540, (503, 1232.7), (506.6, 1250, 527.6, 1355.3),
          [0.0005, 0.001, 0.0015, 0.002], ["0.0005", "0.0010", "0.0015", "0.0020"], 540)

dot_panel((984.8, 1021, 1171, 1389.3), mf_terms, mf_score, mf_count, (2.4, 4.014), [2.4, 2.8, 3.2, 3.6, 4.0],
          (1042, 1369.3), 965.4, {2: 4.5, 3: 11.5, 4: 15, 5: 17.4}, (0.00014, 0.00324),
          "Molecular function", (1077, 1002.7), (1077, 1432), (1191, 1077.7), 1201,
          [1105.7, 1127.3, 1149, 1170.7], 1224, (1187, 1210.7), (1191, 1228.3, 1211.6, 1336.7),
          [0.001, 0.002, 0.003], ["0.001", "0.002", "0.003"], 1218)

dot_panel((1601.4, 1026.7, 1775, 1385.3), kegg_terms, kegg_score, kegg_count, (3.45, 6.46), [3.5, 4.0, 4.5, 5.0, 5.5, 6.0],
          (1047.3, 1365), 1582, {2: 4, 3: 11.5, 4: 15, 5: 18}, (0, 0.000245),
          "Molecular function", (1680.8, 1008.7), (1687, 1433), (1794.8, 1082.7), 1806,
          [1109.3, 1130.3, 1151, 1172.3], 1828, (1791.7, 1210.7), (1796, 1228.7, 1816, 1333.3),
          [0.00005, 0.0001, 0.00015, 0.0002], ["0.00005", "0.00010", "0.00015", "0.00020"], 1822)
over.add_patch(Rectangle((1471.4, 1036.3), 118.6, 23, facecolor="none", edgecolor="#ee1c30", lw=1.4))
over.add_patch(Rectangle((1471.4, 1072), 118.6, 23.3, facecolor="none", edgecolor="#ee1c30", lw=1.4))

fig.savefig("out.png", dpi=100)
